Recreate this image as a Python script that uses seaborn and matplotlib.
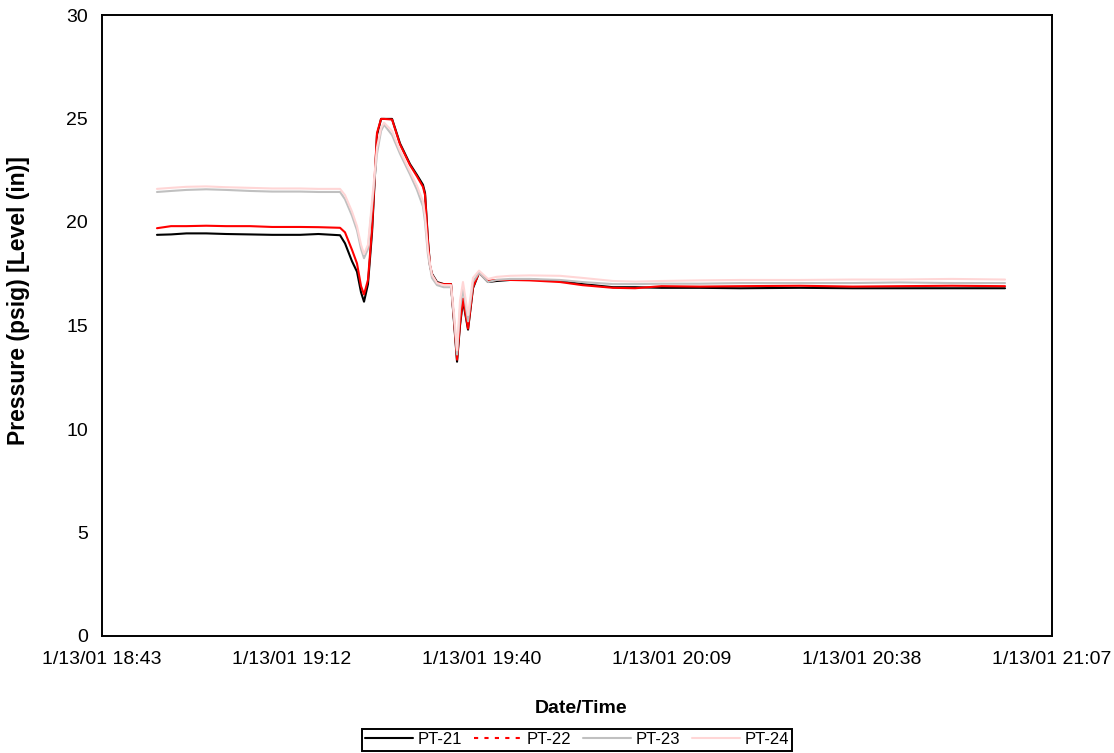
import matplotlib
matplotlib.use("Agg")
import matplotlib.pyplot as plt
from matplotlib.lines import Line2D
import numpy as np
import pandas as pd
import seaborn as sns

# ---------------- data ----------------
DATE = "2001-01-13"
times = [
    "18:51:32", "18:53:40", "18:56:00", "18:59:00", "19:02:00", "19:05:38", "19:09:00",
    "19:13:13", "19:16:00", "19:19:17", "19:20:02", "19:21:06", "19:21:51", "19:22:28",
    "19:22:55", "19:23:31", "19:24:08", "19:24:53", "19:25:30", "19:25:57", "19:27:10",
    "19:28:22", "19:29:53", "19:30:57", "19:31:51", "19:32:10", "19:32:37", "19:32:55",
    "19:33:13", "19:33:59", "19:35:00", "19:36:06", "19:36:33", "19:37:01", "19:37:28",
    "19:37:55", "19:38:41", "19:39:26", "19:40:21", "19:41:43", "19:43:00", "19:45:03",
    "19:48:00", "19:52:38", "19:56:00", "20:00:40", "20:04:00", "20:08:00", "20:13:51",
    "20:20:00", "20:29:00", "20:37:00", "20:44:10", "20:52:00", "21:00:05",
]
pt21 = [19.38, 19.40, 19.45, 19.45, 19.42, 19.40, 19.38, 19.38, 19.42, 19.36,
        18.97, 18.10, 17.60, 16.60, 16.15, 17.00, 19.50, 24.20, 24.98, 24.98,
        24.98, 23.80, 22.80, 22.27, 21.80, 21.40, 19.10, 17.90, 17.50, 17.10,
        17.00, 17.00, 15.20, 13.25, 15.00, 16.20, 14.80, 16.80, 17.55, 17.10,
        17.15, 17.20, 17.22, 17.15, 17.00, 16.85, 16.85, 16.82, 16.82, 16.80,
        16.82, 16.80, 16.80, 16.80, 16.80]
pt22 = [19.70, 19.80, 19.80, 19.82, 19.80, 19.80, 19.76, 19.76, 19.75, 19.72,
        19.50, 18.65, 18.00, 16.90, 16.50, 17.20, 19.70, 24.30, 24.98, 24.98,
        24.95, 23.75, 22.75, 22.20, 21.70, 21.30, 19.00, 17.90, 17.45, 17.05,
        17.00, 17.00, 15.30, 13.35, 15.10, 16.30, 14.85, 16.85, 17.55, 17.15,
        17.20, 17.20, 17.18, 17.10, 16.95, 16.82, 16.80, 16.90, 16.88, 16.90,
        16.92, 16.88, 16.90, 16.92, 16.90]
pt23 = [21.45, 21.50, 21.55, 21.58, 21.55, 21.50, 21.47, 21.47, 21.45, 21.45,
        21.10, 20.30, 19.60, 18.70, 18.25, 18.70, 20.80, 23.30, 24.40, 24.70,
        24.20, 23.30, 22.30, 21.55, 20.75, 20.00, 18.40, 17.84, 17.30, 16.95,
        16.85, 16.85, 15.40, 13.60, 15.80, 16.80, 15.20, 17.10, 17.55, 17.10,
        17.20, 17.25, 17.25, 17.20, 17.10, 17.00, 17.00, 17.02, 17.02, 17.05,
        17.05, 17.05, 17.08, 17.05, 17.05]
pt24 = [21.60, 21.65, 21.70, 21.72, 21.68, 21.65, 21.62, 21.62, 21.60, 21.60,
        21.30, 20.50, 19.80, 18.90, 18.45, 18.90, 21.00, 23.60, 24.55, 24.80,
        24.40, 23.45, 22.45, 21.75, 21.00, 20.30, 18.60, 18.00, 17.45, 17.05,
        16.95, 16.95, 15.60, 13.80, 16.20, 17.10, 15.50, 17.30, 17.65, 17.25,
        17.35, 17.40, 17.42, 17.40, 17.30, 17.15, 17.12, 17.15, 17.18, 17.20,
        17.20, 17.22, 17.22, 17.25, 17.22]
series_names = ["PT-21", "PT-22", "PT-23", "PT-24"]
x_tick_times = ["18:43:12", "19:12:00", "19:40:48", "20:09:36", "20:38:24", "21:07:12"]
x_tick_labels = ["1/13/01 18:43", "1/13/01 19:12", "1/13/01 19:40",
                 "1/13/01 20:09", "1/13/01 20:38", "1/13/01 21:07"]
y_ticks = [0, 5, 10, 15, 20, 25, 30]

# ---------------- styling ----------------
colors = {"PT-21": "#000000", "PT-22": "#ff0000", "PT-23": "#c0c0c0", "PT-24": "#ffd6d6"}

sns.set_style("white")
plt.rcParams["font.family"] = ["Liberation Sans", "DejaVu Sans"]
plt.rcParams["text.color"] = "black"
plt.rcParams["axes.labelcolor"] = "black"
plt.rcParams["xtick.color"] = "black"
plt.rcParams["ytick.color"] = "black"

t = pd.to_datetime([f"{DATE} {s}" for s in times])
frames = []
for name, vals in zip(series_names, [pt21, pt22, pt23, pt24]):
    frames.append(pd.DataFrame({"time": t, "value": vals, "series": name}))
df = pd.concat(frames, ignore_index=True)

fig = plt.figure(figsize=(11.14, 7.53), dpi=100)
ax = fig.add_axes([102 / 1114, 1 - 636 / 753, 950 / 1114, 621 / 753])

sns.lineplot(data=df, x="time", y="value", hue="series", hue_order=series_names,
             palette=colors, estimator=None, sort=False, legend=False,
             linewidth=1.5, ax=ax)

tick_dt = pd.to_datetime([f"{DATE} {s}" for s in x_tick_times])
ax.set_xlim(tick_dt[0], tick_dt[-1])
ax.set_xticks(tick_dt)
ax.set_xticklabels(x_tick_labels)
ax.set_ylim(0, 30)
ax.set_yticks(y_ticks)

for sp in ax.spines.values():
    sp.set_visible(True)
    sp.set_color("black")
    sp.set_linewidth(1.4)

ax.tick_params(axis="both", which="major", direction="out", length=5, width=1.4,
               color="black", labelsize=14, labelcolor="black")
ax.tick_params(axis="x", pad=6)
ax.tick_params(axis="y", pad=5)

ax.set_xlabel("Date/Time", fontsize=14, fontweight="bold", color="black")
ax.set_ylabel("Pressure (psig) [Level (in)]", fontsize=16.5, fontweight="bold",
              color="black")
ax.xaxis.set_label_coords(0.504, -0.103)
ax.yaxis.set_label_coords(-0.088, 0.54)
ax.yaxis.label.set_verticalalignment("center")
ax.grid(False)

handles = [
    Line2D([], [], color="#000000", lw=1.5, linestyle="-"),
    Line2D([], [], color="#ff0000", lw=1.5, linestyle=(0, (2, 3))),
    Line2D([], [], color="#c0c0c0", lw=1.5, linestyle="-"),
    Line2D([], [], color="#ffd6d6", lw=1.5, linestyle="-"),
]
leg = fig.legend(handles, series_names, loc="center", bbox_to_anchor=(0.518, 0.0175),
                 ncol=4, frameon=True, fancybox=False, edgecolor="black",
                 fontsize=12, handlelength=2.9, handletextpad=0.25,
                 columnspacing=0.72, borderpad=0.2, borderaxespad=0.0,
                 labelcolor="black")
leg.get_frame().set_linewidth(1.4)
leg.get_frame().set_facecolor("white")
leg.get_frame().set_alpha(1)

fig.savefig("out.png", dpi=100, facecolor="white")
